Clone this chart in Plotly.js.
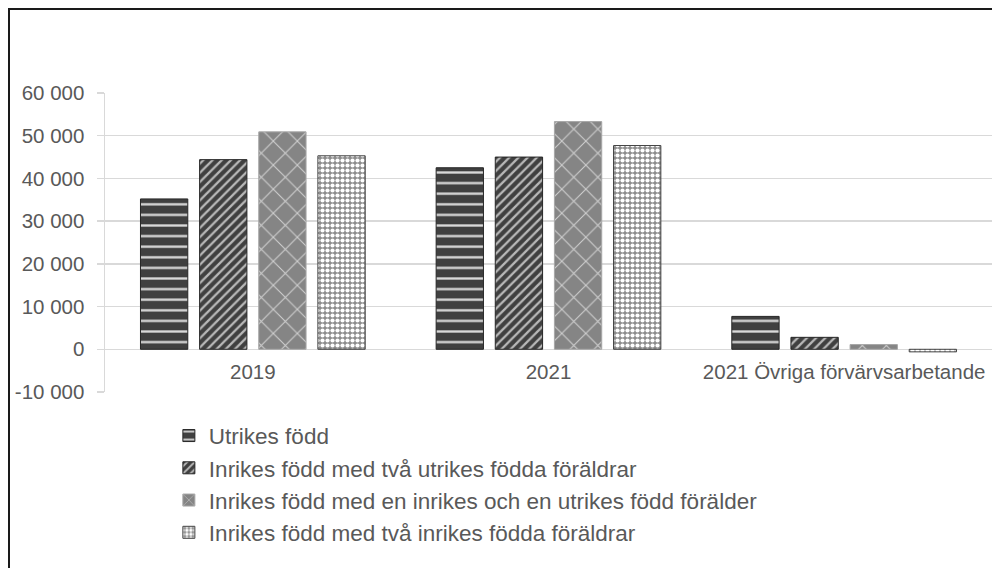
<!DOCTYPE html>
<html>
<head>
<meta charset="utf-8">
<script src="https://cdn.plot.ly/plotly-3.0.1.min.js"></script>
<style>
  html, body { margin: 0; padding: 0; background: #fff; overflow: hidden; }
  #frame { position: absolute; left: 8px; top: 8px; width: 1000px; height: 600px;
           border-left: 2px solid #1a1a1a; border-top: 2px solid #1a1a1a; box-sizing: border-box; pointer-events: none; z-index: 5; }
  #chart { position: absolute; left: 0; top: 0; width: 992px; height: 568px; }
</style>
</head>
<body>
<div id="chart"></div>
<div id="frame"></div>
<script>
const categories = ["2019", "2021", "2021 Övriga förvärvsarbetande"];
const seriesNames = [
  "Utrikes född",
  "Inrikes född med två utrikes födda föräldrar",
  "Inrikes född med en inrikes och en utrikes född förälder",
  "Inrikes född med två inrikes födda föräldrar"
];
const utrikesFodd = [35200, 42500, 7700];
const tvaUtrikesForaldrar = [44400, 45000, 2800];
const enInrikesEnUtrikes = [50900, 53300, 1100];
const tvaInrikesForaldrar = [45300, 47700, -600];
const yTickVals = [-10000, 0, 10000, 20000, 30000, 40000, 50000, 60000];
const yTickText = ["-10 000", "0", "10 000", "20 000", "30 000", "40 000", "50 000", "60 000"];

const values = [utrikesFodd, tvaUtrikesForaldrar, enInrikesEnUtrikes, tvaInrikesForaldrar];
const styles = [
  {bg: "#404040", fg: "#d9d9d9", shape: "-", size: 10.6, sol: 0.22, line: "#262626"},
  {bg: "#404040", fg: "#b8b8b8", shape: "/", size: 6.5, sol: 0.35, line: "#262626"},
  {bg: "#858585", fg: "#d0d0d0", shape: "x", size: 17, sol: 0.12, line: "#a6a6a6"},
  {bg: "#8c8c8c", fg: "#ffffff", shape: ".", size: 5, sol: 0.55, line: "#404040"}
];

const traces = values.map((v, i) => ({
  type: "bar",
  name: seriesNames[i],
  x: categories,
  y: v,
  hoverinfo: "skip",
  marker: {
    color: styles[i].bg,
    line: {color: styles[i].line, width: 1},
    pattern: {shape: styles[i].shape, bgcolor: styles[i].bg, fgcolor: styles[i].fg,
              size: styles[i].size, solidity: styles[i].sol, fillmode: "replace"}
  }
}));

const fam = "Liberation Sans, Arial, sans-serif";
const tickFont = {family: fam, size: 20.5, color: "#595959"};

const layout = {
  width: 992, height: 568,
  margin: {l: 105, r: 0, t: 93, b: 176},
  paper_bgcolor: "#ffffff", plot_bgcolor: "#ffffff",
  font: tickFont,
  barmode: "group",
  bargap: 0.2,
  bargroupgap: 0.2,
  showlegend: true,
  legend: {
    orientation: "v", x: 0.072, y: -0.075, xanchor: "left", yanchor: "top",
    font: {family: fam, size: 22.5, color: "#595959"},
    traceorder: "normal", tracegroupgap: 0, bgcolor: "rgba(0,0,0,0)"
  },
  xaxis: {
    type: "category",
    anchor: "free", position: 1/7,
    showgrid: false, showline: false, zeroline: false,
    ticks: "", tickfont: tickFont, ticklabelstandoff: 8, fixedrange: true
  },
  yaxis: {
    range: [-10000, 60000],
    tickvals: yTickVals, ticktext: yTickText,
    showgrid: true, gridcolor: "#d9d9d9", gridwidth: 1.5,
    zeroline: true, zerolinecolor: "#d9d9d9", zerolinewidth: 1.5,
    showline: true, linecolor: "#d9d9d9", linewidth: 1.5,
    ticks: "outside", ticklen: 7, tickcolor: "#d9d9d9", tickwidth: 1.5,
    tickfont: tickFont, ticklabelstandoff: 8, fixedrange: true
  }
};

Plotly.newPlot("chart", traces, layout, {displayModeBar: false, staticPlot: true});
</script>
</body>
</html>
